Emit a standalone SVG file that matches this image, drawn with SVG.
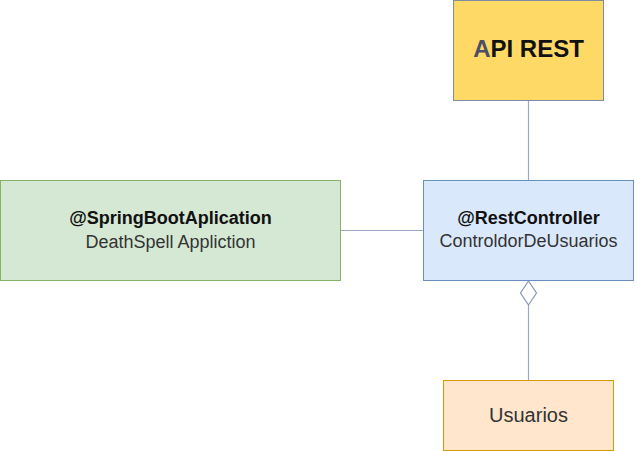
<svg xmlns="http://www.w3.org/2000/svg" width="635" height="451" viewBox="0 0 635 451">
<style>
text{font-family:"Liberation Sans",Arial,sans-serif;text-anchor:middle}
.b{font-weight:bold;fill:#111}
.n{fill:#333}
.e{fill:none;stroke:#9aa8c4;stroke-width:1.2}
</style>
<rect width="635" height="451" fill="#fff"/>
<g id="connectors">
<line class="e" x1="528.5" y1="100" x2="528.5" y2="180"/>
<line class="e" x1="340.5" y1="230.5" x2="423.5" y2="230.5"/>
<line class="e" x1="528.5" y1="305" x2="528.5" y2="380"/>
<path d="M528.5 281 L536.5 293 L528.5 305 L520.5 293 Z" fill="#fff" stroke="#8596b6" stroke-width="1.2"/>
</g>
<g id="api-rest">
<rect x="453.5" y="0.5" width="150" height="100" fill="#FFD966" stroke="#7f8ca3"/>
<text x="528.5" y="57" font-size="24" class="b"><tspan fill="#4d4d66">A</tspan>PI REST</text>
</g>
<g id="spring-boot-app">
<rect x="0.5" y="180.5" width="340" height="100" fill="#D5E8D4" stroke="#82B366"/>
<text x="170.5" y="224" font-size="18" class="b">@SpringBootAplication</text>
<text x="170.5" y="248" font-size="18" class="n">DeathSpell Appliction</text>
</g>
<g id="rest-controller">
<rect x="423.5" y="180.5" width="210" height="100" fill="#DAE8FC" stroke="#6C8EBF"/>
<text x="528.5" y="224" font-size="18" class="b">@RestController</text>
<text x="528.5" y="247" font-size="18" class="n">ControldorDeUsuarios</text>
</g>
<g id="usuarios">
<rect x="443.5" y="380.5" width="170" height="70" fill="#FFE6CC" stroke="#D79B00"/>
<text x="528.5" y="422" font-size="20" class="n">Usuarios</text>
</g>
</svg>
